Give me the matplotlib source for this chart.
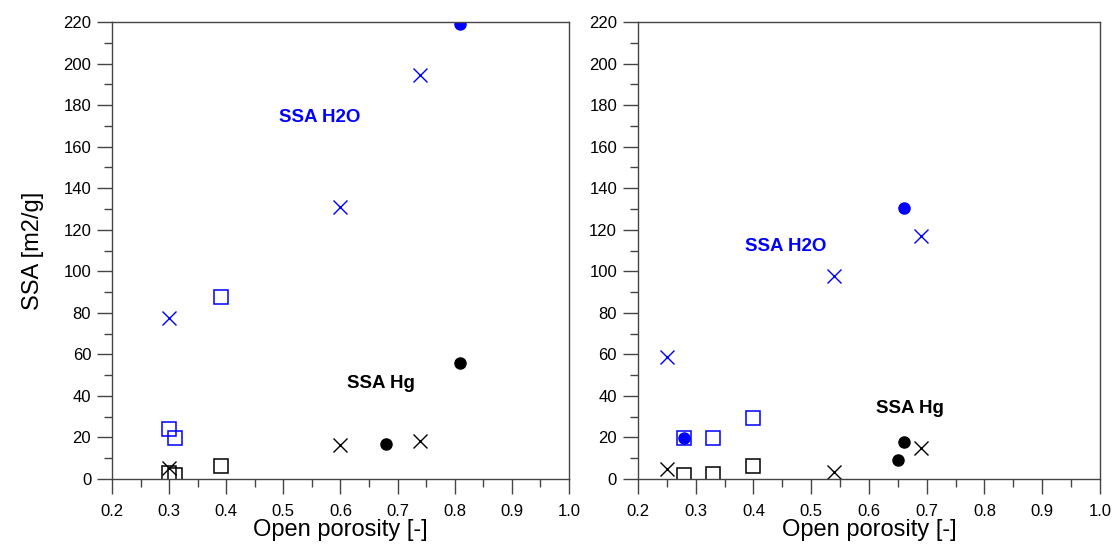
"""SSA vs open porosity, two samples side by side."""

import matplotlib

matplotlib.use("Agg")
import matplotlib.pyplot as plt
from matplotlib.ticker import MultipleLocator

plt.rcParams["font.family"] = ["Liberation Sans", "DejaVu Sans"]

# left panel
l_h2o_circ_x = [0.81]
l_h2o_circ_y = [219]
l_h2o_x_x = [0.30, 0.60, 0.74]
l_h2o_x_y = [77.5, 131, 194.5]
l_h2o_sq_x = [0.39, 0.30, 0.31]
l_h2o_sq_y = [87.5, 24, 19.5]
l_hg_circ_x = [0.81, 0.68]
l_hg_circ_y = [56, 17]
l_hg_x_x = [0.30, 0.60, 0.74]
l_hg_x_y = [5.3, 16.3, 18.2]
l_hg_sq_x = [0.30, 0.31, 0.39]
l_hg_sq_y = [3, 2, 6.3]

# right panel
r_h2o_circ_x = [0.66, 0.28]
r_h2o_circ_y = [130.5, 19.5]
r_h2o_x_x = [0.25, 0.54, 0.69]
r_h2o_x_y = [58.5, 97.5, 117]
r_h2o_sq_x = [0.28, 0.33, 0.40]
r_h2o_sq_y = [19.5, 19.5, 29.5]
r_hg_circ_x = [0.66, 0.65]
r_hg_circ_y = [18, 9]
r_hg_x_x = [0.25, 0.54, 0.69]
r_hg_x_y = [5, 3.5, 15]
r_hg_sq_x = [0.28, 0.33, 0.40]
r_hg_sq_y = [1.8, 2.5, 6]

BLUE = "#0000ff"


def draw(ax, data, h2o_pos, hg_pos):
    (hc_x, hc_y, hx_x, hx_y, hs_x, hs_y,
     gc_x, gc_y, gx_x, gx_y, gs_x, gs_y) = data
    sq = dict(marker="s", ls="none", ms=9.5, mfc="none", mew=1.1)
    ax.plot(hs_x, hs_y, mec=BLUE, **sq)
    ax.plot(gs_x, gs_y, mec="black", **sq)
    ax.plot(hc_x, hc_y, "o", color=BLUE, ms=8)
    ax.plot(gc_x, gc_y, "o", color="black", ms=8)
    ax.plot(hx_x, hx_y, "x", color=BLUE, ms=9.5, mew=1.0)
    ax.plot(gx_x, gx_y, "x", color="black", ms=9.5, mew=1.0)

    ax.text(*h2o_pos, "SSA H2O", color=BLUE, fontsize=13.5, fontweight="bold",
            ha="center", va="center")
    ax.text(*hg_pos, "SSA Hg", color="black", fontsize=13.5, fontweight="bold",
            ha="center", va="center")

    ax.set_xlim(0.2, 1.0)
    ax.set_ylim(0, 220)
    ax.xaxis.set_major_locator(MultipleLocator(0.1))
    ax.xaxis.set_minor_locator(MultipleLocator(0.05))
    ax.yaxis.set_major_locator(MultipleLocator(20))
    ax.yaxis.set_minor_locator(MultipleLocator(10))
    ax.tick_params(which="major", direction="out", length=11, width=1,
                   labelsize=12, color="#444444")
    ax.tick_params(which="minor", direction="out", length=5.5, width=1,
                   color="#444444")
    ax.tick_params(axis="y", which="major", pad=4)
    ax.tick_params(axis="x", which="major", pad=7)
    ax.set_xlabel("Open porosity [-]", fontsize=17, labelpad=0)
    for s in ax.spines.values():
        s.set_linewidth(1)
        s.set_color("#444444")


fig = plt.figure(figsize=(11.2, 5.53), dpi=100)
ax1 = fig.add_axes([0.1, 0.134, 0.408, 0.826])
ax2 = fig.add_axes([0.5696, 0.134, 0.4125, 0.826])

draw(ax1, (l_h2o_circ_x, l_h2o_circ_y, l_h2o_x_x, l_h2o_x_y, l_h2o_sq_x, l_h2o_sq_y,
           l_hg_circ_x, l_hg_circ_y, l_hg_x_x, l_hg_x_y, l_hg_sq_x, l_hg_sq_y),
     (0.564, 174), (0.671, 46))
draw(ax2, (r_h2o_circ_x, r_h2o_circ_y, r_h2o_x_x, r_h2o_x_y, r_h2o_sq_x, r_h2o_sq_y,
           r_hg_circ_x, r_hg_circ_y, r_hg_x_x, r_hg_x_y, r_hg_sq_x, r_hg_sq_y),
     (0.456, 112), (0.671, 34))
ax1.set_ylabel("SSA [m2/g]", fontsize=17, labelpad=14)

fig.savefig("out.png", dpi=100)
